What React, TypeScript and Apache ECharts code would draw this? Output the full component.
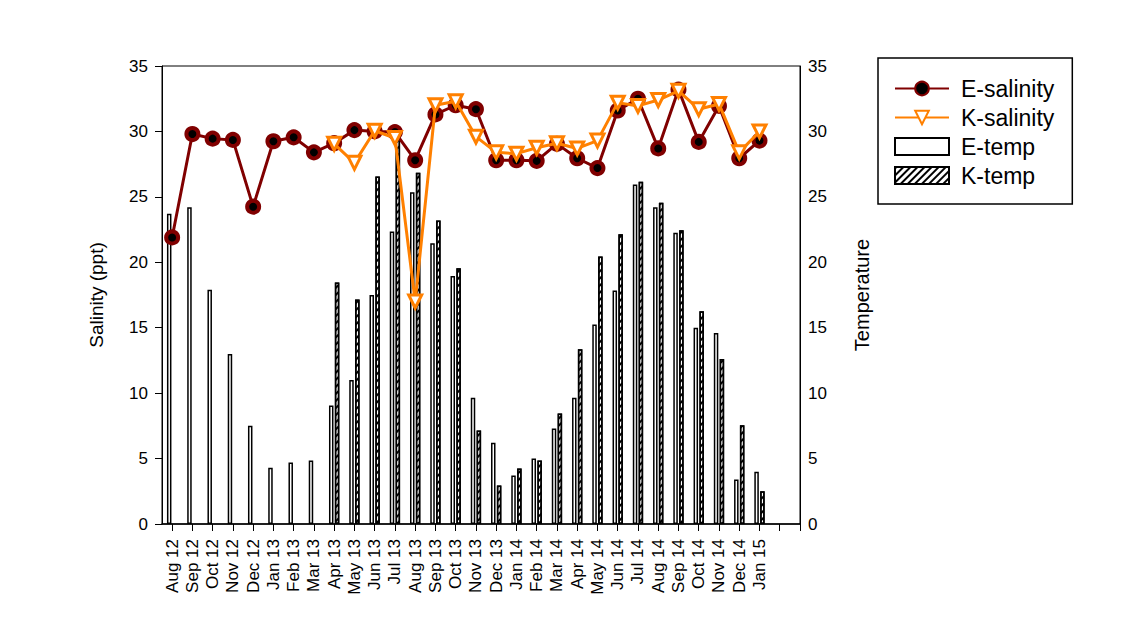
import React, { useEffect, useRef } from "react";
import * as echarts from "echarts";

const months = [
  "Aug 12", "Sep 12", "Oct 12", "Nov 12", "Dec 12", "Jan 13", "Feb 13", "Mar 13",
  "Apr 13", "May 13", "Jun 13", "Jul 13", "Aug 13", "Sep 13", "Oct 13", "Nov 13",
  "Dec 13", "Jan 14", "Feb 14", "Mar 14", "Apr 14", "May 14", "Jun 14", "Jul 14",
  "Aug 14", "Sep 14", "Oct 14", "Nov 14", "Dec 14", "Jan 15",
];

const eSalinity = [
  21.9, 29.8, 29.45, 29.35, 24.25, 29.25, 29.55, 28.4,
  29.1, 30.1, 30.0, 29.95, 27.8, 31.3, 32.0, 31.7,
  27.8, 27.8, 27.75, 29.05, 27.95, 27.2, 31.6, 32.5,
  28.7, 33.2, 29.2, 31.95, 27.95, 29.3,
];

const kSalinity = [
  null, null, null, null, null, null, null, null,
  29.05, 27.6, 30.05, 29.5, 17.0, 32.0, 32.3, 29.6,
  28.4, 28.3, 28.75, 29.1, 28.7, 29.3, 32.2, 31.95,
  32.4, 33.1, 31.7, 32.1, 28.4, 30.0,
];

const eTemp = [
  23.7, 24.2, 17.9, 13.0, 7.5, 4.3, 4.7, 4.85,
  9.05, 11.0, 17.5, 22.35, 25.35, 21.45, 18.95, 9.65,
  6.2, 3.7, 5.0, 7.3, 9.65, 15.25, 17.85, 25.95,
  24.2, 22.25, 15.0, 14.6, 3.4, 4.0,
];

const kTemp = [
  null, null, null, null, null, null, null, null,
  18.45, 17.15, 26.55, 29.8, 26.85, 23.2, 19.55, 7.15,
  2.95, 4.25, 4.85, 8.45, 13.35, 20.45, 22.15, 26.15,
  24.55, 22.45, 16.25, 12.6, 7.55, 2.5,
];

const yTicks = [0, 5, 10, 15, 20, 25, 30, 35];

const FONT = "'Liberation Sans', Arial, sans-serif";
const DARK_RED = "#800000";
const ORANGE = "#ff8000";

const toPairs = (arr: (number | null)[]) => arr.map((v, i) => [i, v]);

export default function App() {
  const ref = useRef<HTMLDivElement>(null);

  useEffect(() => {
    if (!ref.current) return;
    const chart = echarts.init(ref.current, undefined, { renderer: "svg" });

    const tickVals: number[] = [];
    for (let i = 0; i <= 31; i++) tickVals.push(i);
    const labelVals = months.map((_, i) => i);

    const hatch = {
      symbol: "rect",
      symbolSize: 1,
      color: "#000",
      backgroundColor: "#fff",
      dashArrayX: [[1, 0]],
      dashArrayY: [1.5, 3],
      rotation: -Math.PI / 4,
    };

    const yAxisCommon = {
      type: "value",
      min: yTicks[0],
      max: yTicks[yTicks.length - 1],
      interval: 5,
      splitLine: { show: false },
      nameLocation: "middle",
      nameRotate: 90,
    };

    chart.setOption({
      animation: false,
      backgroundColor: "#fff",
      textStyle: { fontFamily: FONT },
      grid: {
        left: 162,
        right: 340,
        top: 66,
        bottom: 93,
        show: true,
        borderColor: "#000",
        borderWidth: 1,
        backgroundColor: "transparent",
        containLabel: false,
      },
      legend: {
        orient: "vertical",
        left: 878,
        top: 58,
        itemWidth: 54,
        itemHeight: 17,
        itemGap: 6,
        padding: [19, 18, 17, 16],
        borderColor: "#000",
        borderWidth: 1.5,
        backgroundColor: "#fff",
        textStyle: { fontFamily: FONT, fontSize: 23, color: "#000", padding: [0, 0, 0, 7] },
        data: [
          { name: "E-salinity" },
          { name: "K-salinity" },
          { name: "E-temp", icon: "rect" },
          { name: "K-temp", icon: "rect" },
        ],
      },
      xAxis: {
        type: "value",
        min: -0.5,
        max: 31,
        splitLine: { show: false },
        axisLine: { show: true, onZero: false, lineStyle: { color: "#000", width: 1.5 } },
        axisTick: {
          show: true,
          length: 7,
          customValues: tickVals,
          lineStyle: { color: "#000", width: 1 },
        },
        axisLabel: {
          customValues: labelVals,
          rotate: 90,
          margin: 15,
          fontFamily: FONT,
          fontSize: 17,
          color: "#000",
          formatter: (v: number) => months[Math.round(v)] ?? "",
        },
      },
      yAxis: [
        {
          ...yAxisCommon,
          position: "left",
          name: "Salinity (ppt)",
          nameGap: 56,
          nameTextStyle: { fontFamily: FONT, fontSize: 19, color: "#000" },
          axisLine: { show: true, onZero: false, lineStyle: { color: "#000", width: 1 } },
          axisTick: { show: true, length: 7, lineStyle: { color: "#000" } },
          axisLabel: { margin: 14, fontFamily: FONT, fontSize: 17, color: "#000" },
        },
        {
          ...yAxisCommon,
          position: "right",
          name: "Temperature",
          nameGap: 52,
          nameTextStyle: { fontFamily: FONT, fontSize: 20, color: "#000" },
          axisLine: { show: true, onZero: false, lineStyle: { color: "#000", width: 1 } },
          axisTick: { show: false },
          axisLabel: { margin: 8, fontFamily: FONT, fontSize: 17, color: "#000" },
        },
      ],
      series: [
        {
          name: "E-temp",
          type: "bar",
          yAxisIndex: 1,
          barWidth: 4.5,
          barGap: "30%",
          data: toPairs(eTemp),
          itemStyle: { color: "#fff", borderColor: "#000", borderWidth: 1.5 },
          z: 1,
        },
        {
          name: "K-temp",
          type: "bar",
          yAxisIndex: 1,
          barWidth: 4.5,
          barGap: "30%",
          data: toPairs(kTemp),
          itemStyle: { color: "#fff", borderColor: "#000", borderWidth: 1.5, decal: hatch },
          z: 1,
        },
        {
          name: "E-salinity",
          type: "line",
          yAxisIndex: 0,
          data: toPairs(eSalinity),
          symbol: "circle",
          symbolSize: 12,
          lineStyle: { color: DARK_RED, width: 3 },
          itemStyle: { color: "#000", borderColor: DARK_RED, borderWidth: 4 },
          z: 3,
        },
        {
          name: "K-salinity",
          type: "line",
          yAxisIndex: 0,
          data: toPairs(kSalinity),
          symbol: "triangle",
          symbolRotate: 180,
          symbolSize: 13,
          lineStyle: { color: ORANGE, width: 3 },
          itemStyle: { color: "#fff", borderColor: ORANGE, borderWidth: 3 },
          z: 4,
        },
      ],
    });

    return () => chart.dispose();
  }, []);

  return (
    <div
      ref={ref}
      style={{ position: "fixed", left: 0, top: 0, width: 1140, height: 617 }}
    />
  );
}
